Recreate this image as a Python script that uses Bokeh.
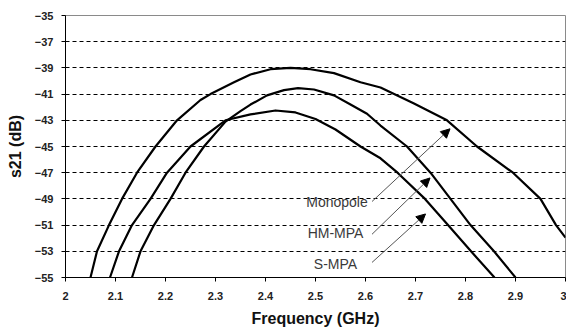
from bokeh.plotting import figure
from bokeh.models import Range1d, FixedTicker, Arrow, NormalHead, Label
from bokeh.embed import file_html
from bokeh.resources import INLINE

# ---- data ----
mono_f = [2.05, 2.063, 2.087, 2.113, 2.143, 2.18, 2.223, 2.27, 2.29, 2.337, 2.37, 2.41, 2.45,
          2.49, 2.537, 2.59, 2.63, 2.696, 2.763, 2.823, 2.895, 2.95, 2.981, 3.0]
mono_s = [-55, -53, -51, -49, -47, -45, -43, -41.45, -41.0, -40.1, -39.5, -39.1, -39.0,
          -39.1, -39.4, -40.1, -40.5, -41.7, -43.0, -45.0, -47.0, -49.0, -51.0, -51.95]

hm_f = [2.133, 2.15, 2.177, 2.21, 2.24, 2.277, 2.32, 2.35, 2.37, 2.403, 2.437, 2.465, 2.497,
        2.537, 2.57, 2.603, 2.63, 2.683, 2.73, 2.77, 2.81, 2.857, 2.90]
hm_s = [-55, -53, -51, -49, -47, -45, -43.1, -42.3, -41.8, -41.1, -40.7, -40.55, -40.65,
        -41.1, -41.8, -42.5, -43.4, -45.0, -47.0, -49.0, -51.0, -53.0, -55.0]

s_f = [2.089, 2.107, 2.133, 2.17, 2.203, 2.25, 2.32, 2.37, 2.42, 2.46, 2.50, 2.54, 2.59,
       2.63, 2.664, 2.719, 2.765, 2.811, 2.858]
s_s = [-55, -53, -51, -49, -47, -45, -43.0, -42.55, -42.25, -42.4, -42.9, -43.7, -45.0,
       -45.9, -47.0, -49.0, -51.0, -53.0, -55.0]

x_ticks = [2.0, 2.1, 2.2, 2.3, 2.4, 2.5, 2.6, 2.7, 2.8, 2.9, 3.0]
x_tick_labels = ["2", "2.1", "2.2", "2.3", "2.4", "2.5", "2.6", "2.7", "2.8", "2.9", "3"]
y_ticks = [-55, -53, -51, -49, -47, -45, -43, -41, -39, -37, -35]

series_names = ["Monopole", "HM-MPA", "S-MPA"]
# annotation: label anchor (f, s) and arrow tip (f, s)
label_pos = [(2.543, -49.2), (2.54, -51.6), (2.54, -54.0)]
arrow_start = [(2.613, -49.2), (2.613, -51.7), (2.613, -53.85)]
arrow_tip = [(2.769, -43.65), (2.729, -47.4), (2.72, -50.15)]

p = figure(width=566, height=332, output_backend="svg", toolbar_location=None,
           x_range=Range1d(2, 3), y_range=Range1d(-55, -35),
           min_border_left=65, min_border_right=1, min_border_top=15, min_border_bottom=55)
p.background_fill_color = "white"
p.border_fill_color = "white"
p.outline_line_color = "#8a8a8a"
p.outline_line_width = 1

p.xgrid.visible = False
p.ygrid.ticker = FixedTicker(ticks=y_ticks)
p.ygrid.grid_line_color = "black"
p.ygrid.grid_line_dash = "4 3"
p.ygrid.grid_line_width = 1

p.xaxis.ticker = FixedTicker(ticks=x_ticks)
p.xaxis.major_label_overrides = {t: l for t, l in zip(x_ticks, x_tick_labels)}
p.yaxis.ticker = FixedTicker(ticks=y_ticks)

for ax in (p.xaxis, p.yaxis):
    ax.axis_line_color = "black"
    ax.axis_line_width = 1
    ax.major_tick_line_color = "black"
    ax.major_tick_out = 4
    ax.major_tick_in = 0
    ax.minor_tick_line_color = None
    ax.major_label_text_font = "Liberation Sans"
    ax.major_label_text_font_style = "bold"
    ax.major_label_text_font_size = "11px"
    ax.major_label_text_color = "#222222"
    ax.axis_label_text_font = "Liberation Sans"
    ax.axis_label_text_font_style = "bold"
    ax.axis_label_text_font_size = "16px"
    ax.axis_label_text_color = "#111111"

p.xaxis.axis_label = "Frequency (GHz)"
p.yaxis.axis_label = "s21 (dB)"
p.xaxis.major_label_standoff = 10
p.yaxis.major_label_standoff = 8
p.xaxis.axis_label_standoff = 7
p.yaxis.axis_label_standoff = 8

for f, s in ((mono_f, mono_s), (hm_f, hm_s), (s_f, s_s)):
    p.line(f, s, line_color="black", line_width=2.2, line_join="round")

for name, lp, a0, a1 in zip(series_names, label_pos, arrow_start, arrow_tip):
    p.add_layout(Label(x=lp[0], y=lp[1], text=name, text_align="center", text_baseline="middle",
                       text_font="Liberation Sans", text_font_size="14px", text_color="#3a3a3a"))
    p.add_layout(Arrow(x_start=a0[0], y_start=a0[1], x_end=a1[0], y_end=a1[1],
                       line_color="#555555", line_width=1,
                       end=NormalHead(size=9, fill_color="black", line_color="black")))

open("out.html", "w").write(file_html(p, INLINE))
